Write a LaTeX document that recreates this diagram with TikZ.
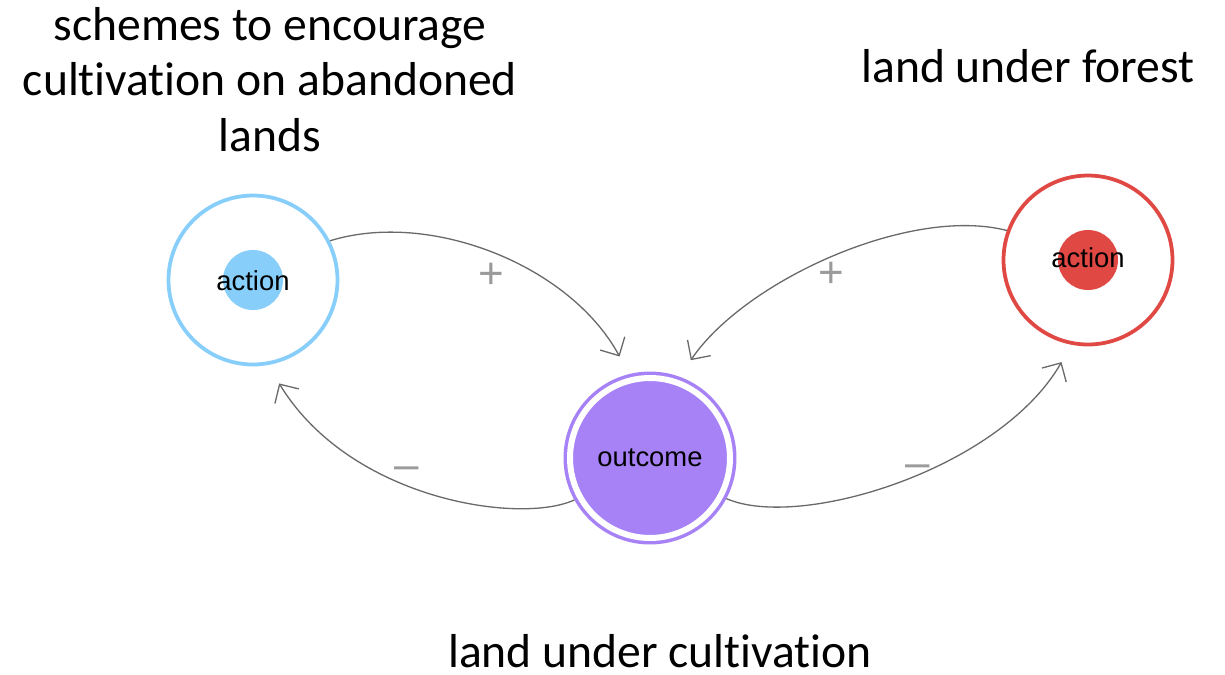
\documentclass[tikz,border=0pt]{standalone}
\usepackage{fontspec}
\setmainfont{Carlito}[RawFeature=-liga]
\newfontfamily\arialfont{Liberation Sans}
\usetikzlibrary{arrows.meta}

\definecolor{actblue}{RGB}{135,206,250}
\definecolor{actred}{RGB}{224,72,68}
\definecolor{outpurple}{RGB}{167,130,247}
\definecolor{linkgray}{RGB}{105,105,105}
\definecolor{signgray}{RGB}{155,155,155}

\begin{document}
\begin{tikzpicture}[x=0.02cm, y=-0.02cm,
  ring/.style={circle, draw=#1, line width=0.075cm, minimum size=3.38cm, inner sep=0pt},
  dot/.style={circle, fill=#1, minimum size=1.2cm, inner sep=0pt},
  outring/.style={circle, fill=outpurple, draw=outpurple, line width=0.07cm,
    double=white, double distance=0.12cm, minimum size=3.2cm, inner sep=0pt, outer sep=0.13cm},
  nodetext/.style={anchor=base, inner sep=0pt, font=\arialfont\fontsize{15.6}{18}\selectfont},
  title/.style={inner sep=0pt, align=center, font=\fontsize{27.1}{31.75}\selectfont},
  sign/.style={anchor=base, inner sep=0pt, text=signgray, font=\arialfont\fontsize{25}{25}\selectfont},
  link/.style={draw=linkgray, line width=0.026cm,
    -{Straight Barb[length=0.28cm, width=0.56cm, line width=0.026cm]}}
]
\useasboundingbox (0,0) rectangle (1225,674);
\fill[white] (0,0) rectangle (1225,674);

% action on the left
\node[ring=actblue] (l) at (253,280) {};
\node[dot=actblue] (ld) at (l.center) {};
\node[nodetext] (lt) at (253,290) {action};

% action on the right
\node[ring=actred] (r) at (1088,260) {};
\node[dot=actred] (rd) at (r.center) {};
\node[nodetext] (rt) at (1088,267) {action};

% outcome in the middle
\node[outring] (o) at (650,458) {};
\node[nodetext] (ot) at (650,466) {outcome};

% causal links
\draw[link, shorten >=0.4cm]  (l.27)    .. controls +(100,-31) and +(-59,-109) .. (o.104);
\draw[link, shorten >=0.4cm]  (r.160)   .. controls +(-97,-25) and +(65,-96)   .. (o.70);
\draw[link, shorten >=0.43cm] (o.209)   .. controls +(-54,25)  and +(82,135)   .. (l.280);
\draw[link, shorten >=0.4cm]  (o.332.5) .. controls +(73,32)   and +(-72,125)  .. (r.259);

% link polarities
\node[sign] (s1) at (491,288) {+};
\node[sign] (s2) at (831,287) {+};
\node[sign] (s3) at (407,479.5) {–};
\node[sign] (s4) at (918,477.5) {–};

% titles
\node[title] (tl) at (270,79.5) {schemes to encourage\\cultivation on abandoned\\lands};
\node[title, anchor=base] (tr) at (1028,82) {land under forest};
\node[title, anchor=base] (tb) at (660,667) {land under cultivation};
\end{tikzpicture}
\end{document}
